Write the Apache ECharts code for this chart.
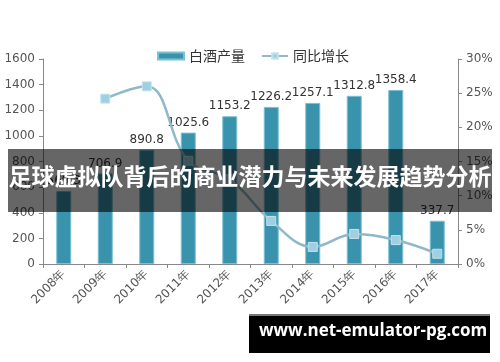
<!DOCTYPE html>
<html><head><meta charset="utf-8">
<script src="https://cdn.jsdelivr.net/npm/echarts@6/dist/echarts.min.js"></script>
<style>html,body{margin:0;padding:0;background:#fff}#c{width:500px;height:362px}</style>
</head><body><div id="c"></div>
<script>
const years = ['2008年','2009年','2010年','2011年','2012年','2013年','2014年','2015年','2016年','2017年'];
const production = [569.3, 706.9, 890.8, 1025.6, 1153.2, 1226.2, 1257.1, 1312.8, 1358.4, 337.7];
const growth = [null, 24.2, 26.0, 15.1, 12.4, 6.3, 2.5, 4.4, 3.5, 1.5];
const leftTicks = {min: 0, max: 1600, interval: 200};
const rightTicks = {min: 0, max: 30, interval: 5};
const bannerText = '足球虚拟队背后的商业潜力与未来发展趋势分析';
const siteText = 'www.net-emulator-pg.com';

const chart = echarts.init(document.getElementById('c'));
const axisFont = {color: '#555', fontSize: 12, fontFamily: 'DejaVu Sans'};
chart.setOption({
  animation: false,
  grid: {left: 43, right: 42, top: 59, bottom: 98},
  legend: {
    top: 44, left: 152, itemGap: 16, itemWidth: 26, itemHeight: 7,
    textStyle: {fontFamily: 'Noto Sans CJK SC', fontSize: 14, color: '#333'},
    data: [
      {name: '白酒产量', icon: 'rect'},
      {name: '同比增长'}
    ]
  },
  xAxis: {
    type: 'category', data: years,
    axisLine: {lineStyle: {color: '#888'}},
    axisTick: {show: true, lineStyle: {color: '#888'}, length: 4},
    axisLabel: Object.assign({}, axisFont, {rotate: 45, margin: 8})
  },
  yAxis: [
    {type: 'value', min: leftTicks.min, max: leftTicks.max, interval: leftTicks.interval,
     axisLine: {show: true, lineStyle: {color: '#888'}},
     axisTick: {show: true, length: 4, lineStyle: {color: '#888'}},
     splitLine: {show: false},
     axisLabel: Object.assign({}, axisFont, {margin: 8, formatter: v => String(v)})},
    {type: 'value', min: rightTicks.min, max: rightTicks.max, interval: rightTicks.interval,
     axisLine: {show: true, lineStyle: {color: '#888'}},
     axisTick: {show: true, length: 4, lineStyle: {color: '#888'}},
     splitLine: {show: false},
     axisLabel: Object.assign({}, axisFont, {margin: 8, formatter: '{value}%'})}
  ],
  series: [
    {name: '白酒产量', type: 'bar', data: production, barWidth: 15,
     itemStyle: {color: '#3a93ac', borderColor: '#7cc0d4', borderWidth: 1},
     label: {show: true, position: 'top', color: '#333', fontSize: 12, fontFamily: 'DejaVu Sans', distance: 4}},
    {name: '同比增长', type: 'line', yAxisIndex: 1, data: growth, smooth: 0.4,
     symbol: 'rect', symbolSize: 9,
     lineStyle: {color: '#8fb8c8', width: 2.5},
     itemStyle: {color: '#9fcfe2', borderColor: '#c5e3ee', borderWidth: 1}}
  ],
  graphic: [
    {type: 'rect', left: 8, top: 149, z: 100, shape: {width: 484, height: 63},
     style: {fill: 'rgba(0,0,0,0.6)'}},
    {type: 'text', left: 'center', top: 165, z: 101,
     style: {text: bannerText, fill: '#fff', font: 'bold 23px "Noto Sans CJK SC"'}},
    {type: 'rect', left: 249, top: 314, z: 100, shape: {width: 241, height: 39},
     style: {fill: '#000'}},
    {type: 'rect', left: 249, top: 314, z: 101, shape: {width: 241, height: 2},
     style: {fill: '#777'}},
    {type: 'text', left: 259, top: 323, z: 101,
     style: {text: siteText, fill: '#fff', font: 'bold 17px "Open Sans"'}}
  ]
});
</script></body></html>
